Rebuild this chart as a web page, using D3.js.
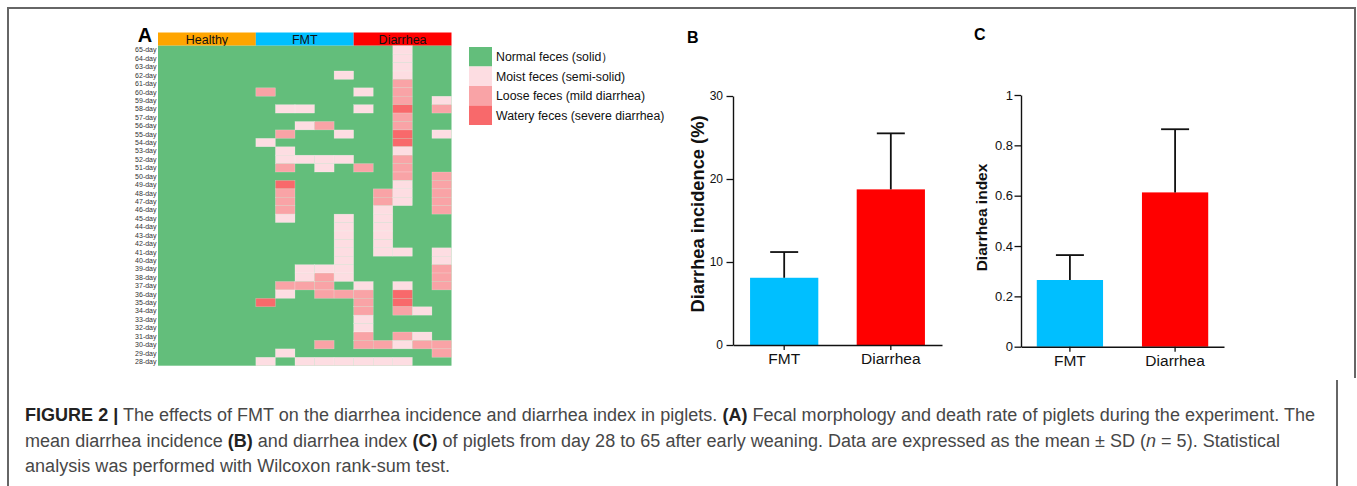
<!DOCTYPE html>
<html><head><meta charset="utf-8">
<script src="https://cdn.jsdelivr.net/npm/d3@7"></script>
<style>body{margin:0;background:#fff}svg{display:block}text{font-family:"Liberation Sans",Arial,sans-serif}</style>
</head><body>
<svg id="c" width="1357" height="486"></svg>
<script>
// ---------------- DATA ----------------
const days = [65,64,63,62,61,60,59,58,57,56,55,54,53,52,51,50,49,48,47,46,45,44,43,42,41,40,39,38,37,36,35,34,33,32,31,30,29,28];
const groups = ["Healthy","FMT","Diarrhea"];
const piglets = ["H1","H2","H3","H4","H5","F1","F2","F3","F4","F5","D1","D2","D3","D4","D5"];
const pigletGroup = ["Healthy","Healthy","Healthy","Healthy","Healthy","FMT","FMT","FMT","FMT","FMT","Diarrhea","Diarrhea","Diarrhea","Diarrhea","Diarrhea"];
// feces score per piglet, day 65 (first char) down to day 28 (last char); 0 normal,1 moist,2 loose,3 watery
const fecesScores = [
  "00000000000000000000000000000000000000",
  "00000000000000000000000000000000000000",
  "00000000000000000000000000000000000000",
  "00000000000000000000000000000000000000",
  "00000000000000000000000000000000000000",
  "00000200000100000000000000000030000001",
  "00000001002011203222100000002100000010",
  "00000001010001000000000000112000000001",
  "00000000020001100000000000122200000201",
  "00010000001001000000111111110200000001",
  "00000101000000200000000000001222112201",
  "00000000000000000221111110000000000201",
  "11112223223312221110000010001332002101",
  "00000000000000000000000000000001001200",
  "00000012001000022222000011222000000220"
];
const fecesLabels = ["Normal feces (solid\uFF09","Moist feces (semi-solid)","Loose feces (mild diarrhea)","Watery feces (severe diarrhea)"];

const barGroups = ["FMT","Diarrhea"];
const incidenceMean = [8.1, 18.75];
const incidenceSD = [3.1, 6.75];
const incidenceTicks = [0,10,20,30];
const indexMean = [0.265, 0.613];
const indexSD = [0.099, 0.251];
const indexTicks = [0,0.2,0.4,0.6,0.8,1];

// ---------------- STYLE ----------------
const groupColors = {Healthy:"#FFA500", FMT:"#00BFFF", Diarrhea:"#FF0000"};
const fecesColors = ["#63BE7B","#FDDDE2","#F9A3A6","#F8696B"];
const barColors = {FMT:"#00BFFF", Diarrhea:"#FF0000"};

const svg = d3.select("#c");

// frame
svg.append("path").attr("d","M8,486V8H1355V378").attr("fill","none").attr("stroke","#666").attr("stroke-width",2);
svg.append("path").attr("d","M1337,380V486").attr("fill","none").attr("stroke","#666").attr("stroke-width",2);

// ---------------- PANEL A ----------------
const hx = d3.scaleBand().domain(piglets).range([158, 451.5]);
const hy = d3.scaleBand().domain(days).range([45.7, 365.7]);
const A = svg.append("g");
A.append("text").attr("x",145).attr("y",42).attr("text-anchor","middle")
  .style("font-size","20px").style("font-weight","bold").text("A");

groups.forEach(g => {
  const cols = piglets.filter((p,i) => pigletGroup[i] === g);
  const x0 = hx(cols[0]), x1 = hx(cols[cols.length-1]) + hx.bandwidth();
  A.append("rect").attr("x",x0).attr("y",32.5).attr("width",x1-x0).attr("height",13.2).attr("fill",groupColors[g]);
  A.append("text").attr("x",(x0+x1)/2).attr("y",43.6).attr("text-anchor","middle")
    .style("font-size","12.5px").attr("fill","#111").text(g);
});

const cells = [];
piglets.forEach((p,i) => {
  fecesScores[i].split("").forEach((c,j) => cells.push({p, day: days[j], v: +c}));
});
// normal-feces cells drawn as one merged block (no seams), others on top
const [hx0, hx1] = hx.range(), [hy0, hy1] = hy.range();
A.append("rect").attr("x",hx0).attr("y",hy0).attr("width",hx1-hx0).attr("height",hy1-hy0).attr("fill",fecesColors[0]);
A.selectAll("rect.cell").data(cells.filter(d => d.v > 0)).join("rect").attr("class","cell")
  .attr("x", d => hx(d.p)).attr("y", d => hy(d.day))
  .attr("width", hx.bandwidth()).attr("height", hy.bandwidth())
  .attr("fill", d => fecesColors[d.v])
  .attr("stroke","#fff").attr("stroke-opacity",0.4).attr("stroke-width",0.5);

A.selectAll("text.rl").data(days).join("text").attr("class","rl")
  .attr("x",156.5).attr("y", d => hy(d) + hy.bandwidth()/2 + 2.5)
  .attr("text-anchor","end").style("font-size","7px").attr("fill","#333")
  .text(d => d + "-day");

// legend
const ly = d3.scaleBand().domain(fecesLabels).range([47, 125]);
A.selectAll("rect.lg").data(fecesLabels).join("rect").attr("class","lg")
  .attr("x",469).attr("y", d => ly(d)).attr("width",23).attr("height", ly.bandwidth())
  .attr("fill", (d,i) => fecesColors[i]);
A.selectAll("text.lg").data(fecesLabels).join("text").attr("class","lg")
  .attr("x",496).attr("y", d => ly(d) + ly.bandwidth()/2 + 4.3)
  .style("font-size","12.3px").attr("fill","#111").text(d => d);

// ---------------- BAR PANELS ----------------
function barPanel(o) {
  const g = svg.append("g");
  const x = d3.scaleBand().domain(barGroups).range([o.x0, o.x1]).paddingInner(o.pi).paddingOuter(o.po);
  const y = d3.scaleLinear().domain([0, o.max]).range([o.y0, o.y1]);
  g.append("text").attr("x",o.lx).attr("y",o.ly).style("font-size","16px").style("font-weight","bold").text(o.letter);
  g.selectAll("rect.bar").data(barGroups).join("rect").attr("class","bar")
    .attr("x", d => x(d)).attr("width", x.bandwidth())
    .attr("y", (d,i) => y(o.mean[i])).attr("height", (d,i) => y(0) - y(o.mean[i]))
    .attr("fill", d => barColors[d]);
  const eb = g.selectAll("g.eb").data(barGroups).join("g").attr("class","eb");
  eb.append("line").attr("x1", d => x(d)+x.bandwidth()/2).attr("x2", d => x(d)+x.bandwidth()/2)
    .attr("y1", (d,i) => y(o.mean[i])).attr("y2", (d,i) => y(o.mean[i]+o.sd[i]))
    .attr("stroke","#111").attr("stroke-width",1.8);
  eb.append("line").attr("x1", d => x(d)+x.bandwidth()/2-14).attr("x2", d => x(d)+x.bandwidth()/2+14)
    .attr("y1", (d,i) => y(o.mean[i]+o.sd[i])).attr("y2", (d,i) => y(o.mean[i]+o.sd[i]))
    .attr("stroke","#111").attr("stroke-width",1.8);
  const ya = g.append("g").attr("transform",`translate(${o.x0},0)`)
    .call(d3.axisLeft(y).tickValues(o.ticks).tickFormat(d3.format("~g")).tickSize(6.5).tickSizeOuter(0).tickPadding(o.tp));
  ya.select(".domain").attr("stroke","#111").attr("stroke-width",1.4);
  ya.selectAll(".tick line").attr("stroke","#111").attr("stroke-width",1.3);
  ya.selectAll(".tick text").style("font-size",o.tf).attr("fill","#111").style("font-family","'Liberation Sans',Arial,sans-serif");
  const xa = g.append("g").attr("transform",`translate(0,${o.y0})`)
    .call(d3.axisBottom(x).tickSize(5).tickSizeOuter(0).tickPadding(3));
  xa.select(".domain").attr("stroke","#111").attr("stroke-width",1.4);
  xa.selectAll(".tick line").attr("stroke","#111").attr("stroke-width",1.3);
  xa.selectAll(".tick text").style("font-size","15.5px").attr("fill","#111").style("font-family","'Liberation Sans',Arial,sans-serif");
  g.append("text").attr("transform",`translate(${o.yx},${o.yy}) rotate(-90)`).attr("text-anchor","middle")
    .style("font-size",o.yf).style("font-weight","bold").attr("fill","#111").text(o.ylabel);
}
barPanel({x0:733, x1:942, y0:345, y1:96, max:30, pi:0.36, po:0.16, mean:incidenceMean, sd:incidenceSD,
  ticks:incidenceTicks, letter:"B", lx:687, ly:43, ylabel:"Diarrhea incidence (%)", yx:704, yy:214, yf:"18.3px", tf:"12px", tp:3.5});
barPanel({x0:1021, x1:1224, y0:346.7, y1:95, max:1, pi:0.37, po:0.15, mean:indexMean, sd:indexSD,
  ticks:indexTicks, letter:"C", lx:974, ly:40, ylabel:"Diarrhea index", yx:987, yy:217.5, yf:"15.5px", tf:"13px", tp:1.5});

// ---------------- CAPTION ----------------
const captionLines = [
  {y:421, w:1290, parts:[["FIGURE 2 |","b"],[" The effects of FMT on the diarrhea incidence and diarrhea index in piglets. ",""],["(A)","b"],[" Fecal morphology and death rate of piglets during the experiment. The",""]]},
  {y:446.5, w:1255, parts:[["mean diarrhea incidence ",""],["(B)","b"],[" and diarrhea index ",""],["(C)","b"],[" of piglets from day 28 to 65 after early weaning. Data are expressed as the mean \u00B1 SD (",""],["n","i"],[" = 5). Statistical",""]]},
  {y:472, w:425, parts:[["analysis was performed with Wilcoxon rank-sum test.",""]]}
];
captionLines.forEach(L => {
  const t = svg.append("text").attr("x",25).attr("y",L.y).style("font-size","18px").attr("fill","#474747");
  L.parts.forEach(([s,f]) => {
    const ts = t.append("tspan").text(s);
    if (f === "b") ts.style("font-weight","bold").attr("fill","#222");
    if (f === "i") ts.style("font-style","italic");
  });
  const nat = t.node().getComputedTextLength();
  const n = L.parts.reduce((a,p) => a + p[0].length, 0);
  t.style("letter-spacing", ((L.w - nat)/(n-1)) + "px");
});
</script>
</body></html>
